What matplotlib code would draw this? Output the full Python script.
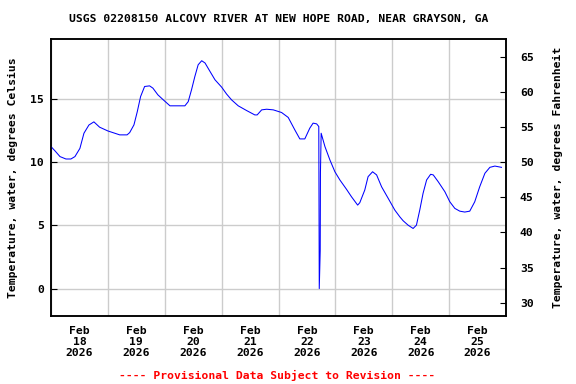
import matplotlib
matplotlib.use("Agg")
import matplotlib.pyplot as plt
import matplotlib.dates as mdates
import pandas as pd
import numpy as np

title = "USGS 02208150 ALCOVY RIVER AT NEW HOPE ROAD, NEAR GRAYSON, GA"
footer = "---- Provisional Data Subject to Revision ----"
ylabel_left = "Temperature, water, degrees Celsius"
ylabel_right = "Temperature, water, degrees Fahrenheit"
start_date = "2026-02-18"

# hours since 2026-02-18 00:00
hours = [0.0, 1.7, 3.8, 6.3, 8.4, 10.1, 12.2, 13.9, 16.0, 18.1, 20.5, 24.0, 29.0, 32.1,
         33.2, 35.0, 36.4, 37.8, 39.5, 41.6, 43.0, 45.1, 47.4, 50.2, 53.6, 56.5, 57.9,
         59.3, 60.7, 62.1, 63.6, 65.0, 67.1, 69.2, 72.0, 74.1, 76.2, 79.0, 82.5, 86.0,
         87.0, 88.9, 91.0, 93.8, 97.3, 100.1, 102.9, 105.0, 107.1, 109.2, 110.6, 112.1,
         113.0, 113.2, 113.6, 113.7, 114.0, 115.6, 117.7, 119.8, 121.9, 124.7, 126.8,
         129.4, 130.3, 132.4, 133.8, 135.7, 137.4, 139.5, 142.3, 145.1, 147.2, 148.6,
         150.7, 152.8, 154.2, 155.6, 157.0, 158.5, 160.2, 161.3, 163.4, 166.2, 168.3,
         170.4, 172.5, 174.6, 176.7, 178.8, 180.9, 183.1, 185.2, 187.3, 190.1]
temp_c = [11.24, 10.9, 10.45, 10.26, 10.26, 10.45, 11.1, 12.3, 12.95, 13.2, 12.78, 12.48,
          12.17, 12.17, 12.35, 12.96, 14.0, 15.2, 16.0, 16.05, 15.87, 15.34, 14.94, 14.47,
          14.47, 14.47, 14.8, 15.74, 16.79, 17.72, 18.04, 17.86, 17.19, 16.53, 15.95, 15.4,
          14.94, 14.47, 14.1, 13.75, 13.75, 14.15, 14.2, 14.15, 13.94, 13.55, 12.56, 11.85,
          11.85, 12.7, 13.1, 13.04, 12.83, 0.0, 3.0, 9.2, 12.3, 11.24, 10.18, 9.25, 8.6,
          7.86, 7.27, 6.61, 6.8, 7.8, 8.86, 9.25, 9.0, 8.06, 7.14, 6.21, 5.68, 5.37, 5.02,
          4.76, 5.02, 6.21, 7.54, 8.6, 9.05, 9.0, 8.46, 7.67, 6.87, 6.35, 6.13, 6.06, 6.13,
          6.87, 8.06, 9.13, 9.6, 9.7, 9.6]

yticks_c = [0, 5, 10, 15]
yticks_f = [30, 35, 40, 45, 50, 55, 60, 65]
ylim_c = (-2.17, 19.76)

times = pd.Timestamp(start_date) + pd.to_timedelta(hours, unit="h")

plt.rcParams['font.family'] = ['DejaVu Sans Mono']
plt.rcParams['font.weight'] = 'bold'
fs = 8.2

fig = plt.figure(figsize=(5.76, 3.84), dpi=100)
ax = fig.add_axes([51/576, 1-316/384, 455/576, 277/384])
ax.plot(times, temp_c, color="#0000ff", lw=0.75, antialiased=True, zorder=3)

x0 = pd.Timestamp(start_date)
ax.set_xlim(x0, x0 + pd.Timedelta(days=8))
ax.set_ylim(*ylim_c)
ax.set_yticks(yticks_c)
ax.set_yticklabels([str(v) for v in yticks_c], fontsize=fs, fontweight='bold')

ax.xaxis.set_major_locator(mdates.DayLocator())
ax.xaxis.set_major_formatter(plt.NullFormatter())
ax.xaxis.set_minor_locator(mdates.HourLocator(byhour=[12]))
ax.xaxis.set_minor_formatter(mdates.DateFormatter("%b\n%d\n%Y"))
ax.tick_params(axis='x', which='both', length=0, labelsize=fs, pad=7)
for lab in ax.get_xticklabels(minor=True):
    lab.set_fontweight('bold')
    lab.set_linespacing(1.15)
ax.tick_params(axis='y', direction='in', length=4, labelsize=fs, pad=5)
ax.grid(True, which='major', color='#cccccc', lw=1)
ax.set_axisbelow(True)
for s in ax.spines.values():
    s.set_linewidth(1.1)
ax.set_ylabel(ylabel_left, fontsize=fs, fontweight='bold', labelpad=9)

ax2 = ax.twinx()
ax2.set_ylim(ylim_c[0]*9/5+32, ylim_c[1]*9/5+32)
ax2.set_yticks(yticks_f)
ax2.set_yticklabels([str(v) for v in yticks_f], fontsize=fs, fontweight='bold')
ax2.tick_params(axis='y', direction='in', length=4, labelsize=fs, pad=10)
ax2.set_ylabel(ylabel_right, fontsize=fs, fontweight='bold', labelpad=14)
for s in ax2.spines.values():
    s.set_linewidth(1.1)

fig.text(278.5/576, 1-19/384, title, ha='center', va='center', fontsize=fs, fontweight='bold')
fig.text(277/576, 1-375/384, footer, ha='center', va='center', fontsize=fs, fontweight='bold', color='#ff0000')

fig.savefig("out.png", dpi=100)
